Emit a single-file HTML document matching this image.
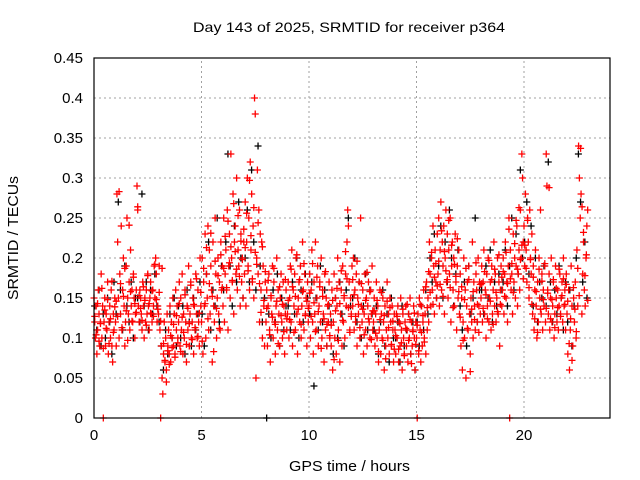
<!DOCTYPE html>
<html><head><meta charset="utf-8"><style>
html,body{margin:0;padding:0;background:#fff;}
svg{display:block;font-family:"Liberation Sans",sans-serif;}
</style></head><body>
<svg id="chart" width="640" height="480" xmlns="http://www.w3.org/2000/svg">
<rect width="640" height="480" fill="#fff"/>
<g id="grid"></g>
<g id="black"></g>
<g id="red"></g>
<g id="axes"></g>
<text x="193" y="32" font-size="14" textLength="312" lengthAdjust="spacingAndGlyphs">Day 143 of 2025, SRMTID for receiver p364</text>
<text x="289" y="471" font-size="15" textLength="121" lengthAdjust="spacingAndGlyphs">GPS time / hours</text>
<text x="18" y="238" font-size="15" text-anchor="middle" textLength="124" lengthAdjust="spacingAndGlyphs" transform="rotate(-90 18 238)">SRMTID / TECUs</text>
</svg>
<script>
const xTicks=[0,5,10,15,20];
const yTicks=[0,0.05,0.1,0.15,0.2,0.25,0.3,0.35,0.4,0.45];
const yTickLabels=["0","0.05","0.1","0.15","0.2","0.25","0.3","0.35","0.4","0.45"];
// red series: per hour, values in hundredths of TECU
const redHours=[
[15,12,10,14,8,11,16,13,9,12,18,10,14,0,12,15,9,13,11,17,8,12,14,10,16,9,7,13,11,15],
[12,9,28,22,15,10,18,13,24,11,16,20,14,9,12,19,25,15,13,17,11,21,14,16,12,18,15,10,13,16],
[29,26,14,12,16,15,13,11,17,14,10,15,12,16,13,18,14,11,15,17,13,12,16,14,19,15,20,18,12,14],
[13,19,11,0,9,5,3,8,12,7,10,6,13,9,11,8,14,7,12,10,15,9,13,8,16,11,14,10,12,17],
[9,15,11,18,8,13,10,16,12,7,14,11,19,9,13,17,10,12,15,8,14,11,18,13,10,16,12,9,20,14],
[12,20,8,17,14,23,10,18,15,24,11,21,13,19,16,7,22,14,12,25,18,10,15,20,13,17,11,22,16,19],
[14,25,12,18,21,16,26,11,19,23,15,33,20,17,28,13,22,24,18,30,16,21,19,26,14,23,17,20,15,22],
[18,27,14,22,30,19,25,16,32,21,28,17,24,15,40,38,5,20,31,18,26,12,23,16,22,10,19,14,9,17],
[12,16,9,14,18,11,7,15,13,19,10,17,12,8,14,20,11,16,13,9,15,18,12,10,17,14,8,13,16,11],
[13,17,10,15,19,12,21,9,16,14,18,11,20,13,8,15,17,12,19,10,14,22,16,11,18,13,15,9,17,12],
[14,18,10,16,21,12,8,17,13,22,11,15,19,9,14,17,12,20,10,16,13,7,18,11,15,9,14,12,17,10],
[13,9,16,6,12,18,10,15,8,14,20,11,17,7,13,16,9,19,12,15,10,18,14,22,26,24,17,11,15,13],
[19,14,20,11,16,12,18,9,15,13,17,10,25,14,12,16,8,13,18,11,15,9,14,17,12,10,16,13,19,11],
[12,15,9,13,17,10,14,7,11,16,8,13,10,15,12,6,14,9,11,17,10,13,8,15,12,9,14,11,7,13],
[11,8,13,10,14,7,12,9,15,11,6,13,10,8,12,14,9,11,7,13,10,15,8,12,9,11,14,10,6,12],
[10,0,13,8,15,11,7,14,9,12,16,10,13,8,17,11,15,12,22,18,14,20,16,24,19,13,21,17,15,23],
[18,25,14,21,27,16,22,19,24,13,20,26,17,23,15,21,18,25,12,19,22,16,20,14,23,17,11,19,15,21],
[13,18,9,15,6,12,20,10,16,5,14,17,11,19,13,8,15,12,22,10,17,14,11,18,16,12,20,14,17,13],
[15,19,12,17,21,13,16,10,18,14,20,12,15,17,11,19,13,16,22,14,18,12,15,20,13,17,9,16,19,14],
[16,20,13,18,22,15,17,12,19,25,0,21,16,18,13,23,17,20,15,19,24,14,18,21,16,26,20,33,30,22],
[24,19,28,21,17,25,22,15,26,20,18,23,13,19,11,16,21,14,10,17,12,20,15,26,13,18,11,16,14,19],
[12,33,29,16,13,18,11,15,20,12,14,17,10,13,19,15,12,16,11,14,18,13,15,17,12,20,14,16,11,18],
[13,8,16,6,11,19,14,9,15,12,17,10,21,14,34,30,25,28,13,18,22,16,14,20,24,26]
];
// extra red points, values in thousandths of TECU
const redHoursFine=[
[127,104,143,96,118,162,87,135,112,148,93,124,171,107,139],
[146,127,283,168,113,152,187,134,97,241,158,121,176,143,132],
[264,153,137,122,164,147,116,178,143,131,159,127,192,148,136],
[157,121,187,93,72,45,84,67,103,88,117,76,128,94,143],
[83,126,107,154,92,137,118,166,98,142,113,174,102,131,157],
[96,187,143,213,124,168,231,152,83,196,137,178,112,204,163],
[187,227,163,246,194,214,172,268,208,186,253,177,221,198,236],
[213,256,184,297,228,174,263,207,192,244,168,132,214,147,183],
[137,172,104,153,126,187,117,146,93,164,128,142,108,173,124],
[147,123,186,164,107,152,204,136,173,117,158,193,128,146,137],
[156,127,193,144,108,176,133,164,87,152,124,183,117,142,103],
[116,147,73,134,162,97,143,184,122,153,208,174,138,107,127],
[173,154,127,196,142,113,168,136,104,147,182,124,158,98,134],
[134,106,147,83,123,157,97,128,74,146,113,138,92,121,86],
[103,127,86,118,94,136,78,112,142,97,123,68,108,131,92],
[116,84,142,107,128,95,164,138,183,157,207,142,176,193,165],
[196,167,234,152,208,184,173,247,163,216,138,192,177,224,158],
[126,164,97,148,187,112,173,58,136,158,123,194,142,107,167],
[168,137,183,154,124,197,146,173,117,186,157,133,204,142,176],
[183,152,207,168,236,174,193,157,218,247,186,263,198,216,174],
[216,187,247,163,198,142,176,124,158,107,186,136,171,148,193],
[137,156,288,124,148,173,113,162,138,186,127,153,174,142,167],
[146,93,124,72,163,136,108,187,153,337,264,232,178,204,147]
];
const blackHours=[
[14,11,16,9,13,10,15,12,8,17],
[13,27,16,11,19,14,12,17,10,15],
[15,12,28,14,17,11,16,13,18,14],
[12,9,6,11,8,13,10,15,9,14],
[10,14,8,16,12,9,15,11,13,17],
[13,9,18,22,11,16,14,25,12,19],
[16,22,33,19,14,24,17,27,20,15],
[20,26,17,31,22,16,34,19,12,15],
[0,13,10,16,12,18,9,15,11,14],
[14,11,17,13,20,10,16,12,18,15],
[13,17,4,15,11,19,12,16,9,14],
[12,8,15,10,17,13,9,16,25,14],
[15,20,12,17,10,14,18,11,16,13],
[11,14,8,12,16,9,13,7,15,10],
[10,12,7,14,9,11,13,8,12,6],
[12,9,14,11,16,13,20,17,23,15],
[19,24,15,22,17,26,20,14,18,21],
[14,11,17,9,19,13,15,25,12,16],
[16,13,19,15,21,12,17,14,18,16],
[17,21,14,19,25,16,23,18,31,20],
[22,27,18,24,14,20,12,17,15,19],
[14,32,17,12,16,13,19,15,11,17],
[12,16,9,14,20,33,27,17,22,15]
];
const X0=94,X1=610,Y0=418,Y1=58,XMAX=24,YMAX=0.45;
const sx=v=>X0+(X1-X0)*v/XMAX;
const sy=v=>Y0-(Y0-Y1)*v/YMAX;
const NS="http://www.w3.org/2000/svg";
function mk(tag,attrs,parent){const e=document.createElementNS(NS,tag);for(const k in attrs)e.setAttribute(k,attrs[k]);parent.appendChild(e);return e;}
const grid=document.getElementById('grid'),axes=document.getElementById('axes');
xTicks.forEach(t=>{
  if(t>0){const g=mk('line',{x1:sx(t),x2:sx(t),y1:Y0,y2:Y1,stroke:'#a0a0a0','stroke-dasharray':'2,3'},grid);
  
  }
  const l=mk('text',{x:sx(t),y:Y0+22,'font-size':15,'text-anchor':'middle'},axes);
  l.textContent=String(t);
  
  
});
yTicks.forEach((t,i)=>{
  if(t>0&&t<YMAX){const g=mk('line',{x1:X0,x2:X1,y1:sy(t),y2:sy(t),stroke:'#a0a0a0','stroke-dasharray':'2,3'},grid);
  
  }
  const l=mk('text',{x:X0-11,y:sy(t)+5,'font-size':15,'text-anchor':'end'},axes);
  l.textContent=yTickLabels[i];
  
  
});
const frame=mk('rect',{x:X0,y:Y1,width:X1-X0,height:Y0-Y1,fill:'none',stroke:'#000','stroke-width':1.2},axes);


function drawSeries(rows,g,color,name,offs,scale){
  let d='';
  rows.forEach((row,h)=>{row.forEach((v,i)=>{
    const x=sx(h+(i+offs)/row.length),y=sy(v/scale);
    d+=`M${x-3.5},${y}h7M${x},${y-3.5}v7`;
  });});
  const p=mk('path',{d:d,stroke:color,'stroke-width':1.3,fill:'none'},g);
  
  
}
drawSeries(blackHours,document.getElementById('black'),'#000','black-series-points',0.3,100);
drawSeries(redHours,document.getElementById('red'),'#f00','red-series-points',0,100);
drawSeries(redHoursFine,document.getElementById('red'),'#f00','red-series-points-extra',0.5,1000);
</script>
</body></html>
